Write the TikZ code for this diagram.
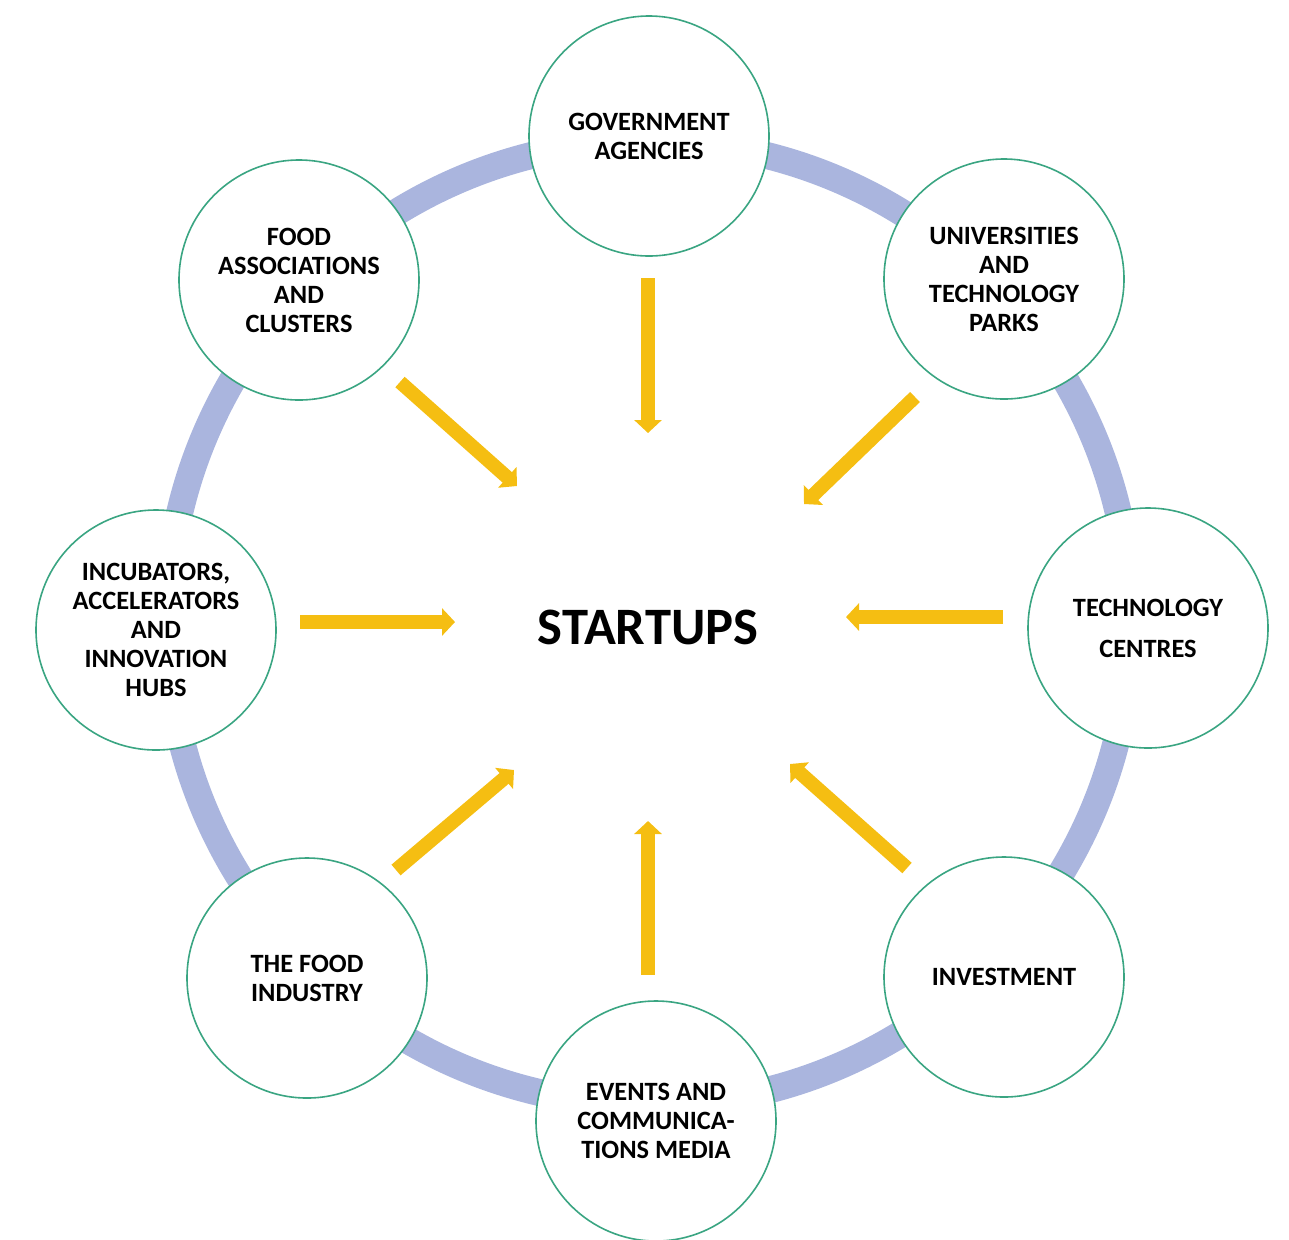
\documentclass[tikz,border=0pt]{standalone}
\usepackage{fontspec}
\setmainfont{Carlito}
\usetikzlibrary{arrows.meta}
\definecolor{ringcol}{RGB}{170,181,222}
\definecolor{bordercol}{RGB}{58,165,130}
\definecolor{arrowcol}{RGB}{245,190,18}
\tikzset{
  actor/.style={circle, draw=bordercol, line width=0.8pt, fill=white, minimum size=120pt, inner sep=0pt, align=center, font=\fontsize{13.2}{14.5}\selectfont\bfseries},
  flow/.style={draw=arrowcol, line width=7pt, -{Triangle[width=13.5pt,length=6.5pt]}},
  ring/.style={draw=ringcol, line width=13.5pt}
}
\begin{document}
\begin{tikzpicture}[x=0.5pt,y=-0.5pt]
\useasboundingbox (0,0) rectangle (1289,1239);
\coordinate (rc) at (649,623);
\draw[ring] (rc) circle[radius=482];
\node[actor] (gov) at (649,136) {GOVERNMENT\\AGENCIES};
\node[actor] (uni) at (1004,279) {UNIVERSITIES\\AND\\TECHNOLOGY\\PARKS};
\node[actor] (tech) at (1148,628) {TECHNOLOGY\\[6pt]CENTRES};
\node[actor] (inv) at (1004,977) {INVESTMENT};
\node[actor] (evt) at (656,1121) {EVENTS AND\\COMMUNICA-\\TIONS MEDIA};
\node[actor] (ind) at (307,978) {THE FOOD\\INDUSTRY};
\node[actor] (inc) at (156,630) {INCUBATORS,\\ACCELERATORS\\AND\\INNOVATION\\HUBS};
\node[actor] (assoc) at (299,280) {FOOD\\ASSOCIATIONS\\AND\\CLUSTERS};
\node[font=\fontsize{26.3}{30}\selectfont\bfseries] (startups) at (648,627) {STARTUPS};
% arrow end points
\coordinate (g1) at (648,278); \coordinate (g2) at (648,433);
\coordinate (u1) at (915,397); \coordinate (u2) at (804,504);
\coordinate (t1) at (1003,617); \coordinate (t2) at (846,617);
\coordinate (i1) at (907,868); \coordinate (i2) at (790,764);
\coordinate (e1) at (648,975); \coordinate (e2) at (648,821);
\coordinate (f1) at (396,870); \coordinate (f2) at (514,770);
\coordinate (c1) at (300,622); \coordinate (c2) at (455,622);
\coordinate (a1) at (400,382); \coordinate (a2) at (517,486);
\draw[flow] (g1) -- (g2);
\draw[flow] (u1) -- (u2);
\draw[flow] (t1) -- (t2);
\draw[flow] (i1) -- (i2);
\draw[flow] (e1) -- (e2);
\draw[flow] (f1) -- (f2);
\draw[flow] (c1) -- (c2);
\draw[flow] (a1) -- (a2);
\end{tikzpicture}
\end{document}
